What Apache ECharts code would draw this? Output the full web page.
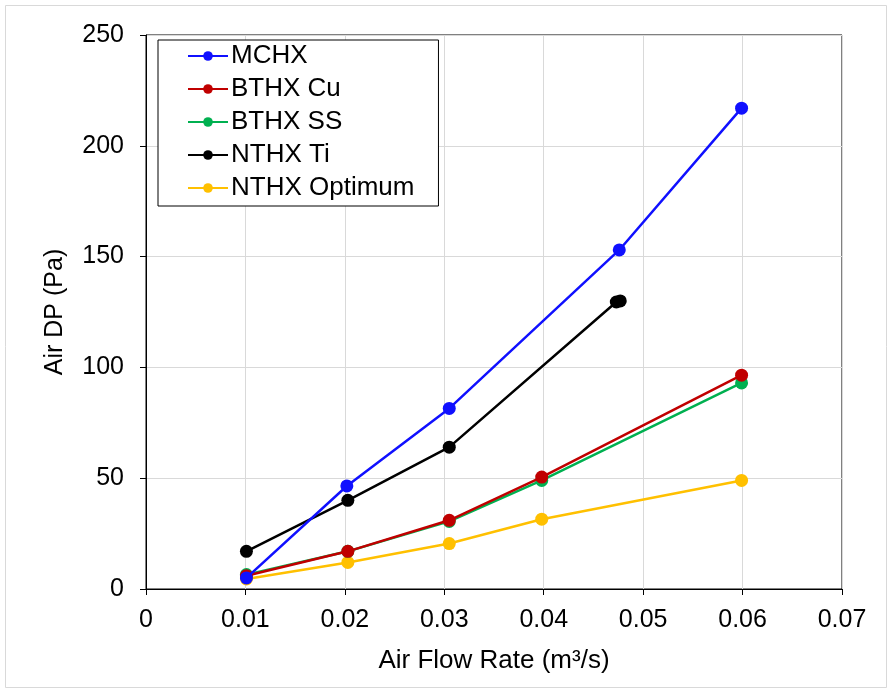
<!DOCTYPE html>
<html><head><meta charset="utf-8">
<script src="https://cdn.jsdelivr.net/npm/echarts@6/dist/echarts.min.js"></script>
<style>html,body{margin:0;padding:0;background:#fff}#c{width:892px;height:693px}</style>
</head><body><div id="c"></div>
<script>
const seriesNames = ['MCHX','BTHX Cu','BTHX SS','NTHX Ti','NTHX Optimum'];
const colors = ['#1010ff','#c00000','#00b050','#000000','#ffc000'];
const mchx = [[0.0101,5],[0.0202,46.5],[0.0305,81.5],[0.0476,153],[0.0599,217]];
const bthxCu = [[0.0101,6],[0.0203,17],[0.0305,31],[0.0398,50.5],[0.0599,96.5]];
const bthxSS = [[0.0101,6.5],[0.0203,17],[0.0305,30.5],[0.0398,49],[0.0599,93]];
const nthxTi = [[0.0101,17],[0.0203,40],[0.0305,64],[0.0473,129.5],[0.0477,130]];
const nthxOpt = [[0.0101,4.5],[0.0203,12],[0.0305,20.5],[0.0398,31.5],[0.0599,49]];
const allData = [mchx,bthxCu,bthxSS,nthxTi,nthxOpt];
const xTicks = {min:0,max:0.07,interval:0.01};
const yTicks = {min:0,max:250,interval:50};

const font = 'Liberation Sans, Arial, sans-serif';
const chart = echarts.init(document.getElementById('c'));
chart.setOption({
  animation:false,
  backgroundColor:'#fff',
  graphic:[{type:'rect',shape:{x:5.5,y:5.5,width:881,height:682},style:{fill:null,stroke:'#d9d9d9',lineWidth:1}}],
  grid:{left:146,top:35,width:696,height:554,show:true,borderColor:'#000',borderWidth:1,containLabel:false},
  legend:{
    orient:'vertical',left:158,top:40,
    data:seriesNames,
    itemWidth:40,itemHeight:12,itemGap:7,
    padding:[3,24,5,29],
    borderColor:'#000',borderWidth:1,backgroundColor:'#fff',
    textStyle:{fontFamily:font,fontSize:26,color:'#000',padding:[0,0,0,-2]}
  },
  xAxis:{
    type:'value',min:xTicks.min,max:xTicks.max,interval:xTicks.interval,
    name:'Air Flow Rate (m³/s)',nameLocation:'middle',nameGap:59,
    nameTextStyle:{fontFamily:font,fontSize:26,color:'#000'},
    axisLine:{lineStyle:{color:'#000',width:1}},
    axisTick:{show:true,inside:false,length:6,lineStyle:{color:'#000'}},
    axisLabel:{fontFamily:font,fontSize:25,color:'#000',margin:19,
      formatter:v=>v===0?'0':v.toFixed(2)},
    splitLine:{show:true,lineStyle:{color:'#d9d9d9',width:1}}
  },
  yAxis:{
    type:'value',min:yTicks.min,max:yTicks.max,interval:yTicks.interval,
    name:'Air DP (Pa)',nameLocation:'middle',nameGap:78,
    nameTextStyle:{fontFamily:font,fontSize:25,color:'#000'},
    axisLine:{show:true,lineStyle:{color:'#000',width:1}},
    axisTick:{show:true,inside:false,length:6,lineStyle:{color:'#000'}},
    axisLabel:{fontFamily:font,fontSize:25,color:'#000',margin:22},
    splitLine:{show:true,lineStyle:{color:'#d9d9d9',width:1}}
  },
  series: seriesNames.map((n,i)=>({
    name:n,type:'line',data:allData[i],
    symbol:'circle',symbolSize:13,
    lineStyle:{width:2.5,color:colors[i]},
    itemStyle:{color:colors[i]},
    z:10-i
  }))
});
</script></body></html>
